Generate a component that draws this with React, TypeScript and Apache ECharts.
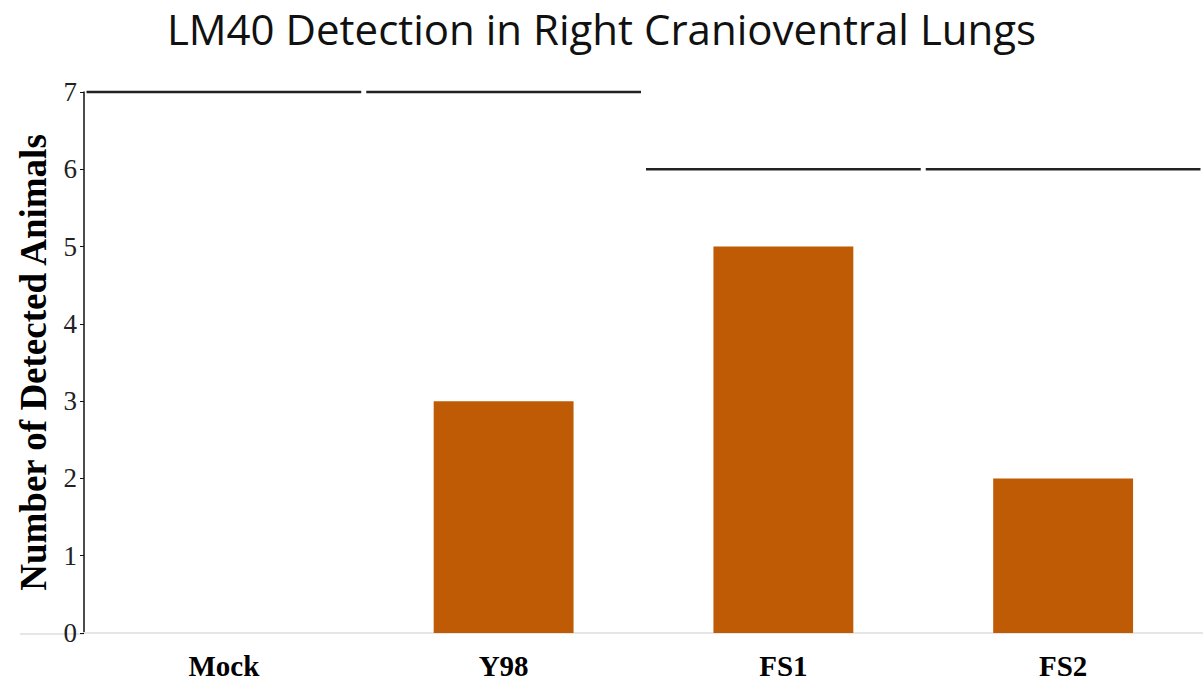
import React, { useEffect, useRef } from "react";
import * as echarts from "echarts";

const categories = ["Mock", "Y98", "FS1", "FS2"];
const detected = [0, 3, 5, 2];
const totals = [7, 7, 6, 6];
const yTicks = [0, 1, 2, 3, 4, 5, 6, 7];

export default function App() {
  const ref = useRef<HTMLDivElement>(null);
  useEffect(() => {
    if (!ref.current) return;
    const chart = echarts.init(ref.current, null, { renderer: "svg" });
    chart.setOption({
      animation: false,
      backgroundColor: "#ffffff",
      title: {
        text: "LM40 Detection in Right Cranioventral Lungs",
        left: "center",
        top: 2,
        textStyle: {
          fontFamily: "Open Sans",
          fontWeight: "normal",
          fontSize: 42,
          color: "#111",
        },
      },
      grid: { left: 84, right: 0, top: 92, bottom: 52 },
      xAxis: {
        type: "category",
        data: categories,
        axisLine: { show: true, lineStyle: { color: "#e6e6e6", width: 2 } },
        axisTick: { show: false },
        axisLabel: {
          fontFamily: "Liberation Serif",
          fontWeight: "bold",
          fontSize: 29,
          color: "#000",
          margin: 18,
        },
      },
      yAxis: {
        type: "value",
        min: yTicks[0],
        max: yTicks[yTicks.length - 1],
        interval: 1,
        name: "Number of Detected Animals",
        nameLocation: "middle",
        nameGap: 32,
        nameTextStyle: {
          fontFamily: "Liberation Serif",
          fontWeight: "bold",
          fontSize: 37,
          color: "#000",
        },
        splitLine: { show: false },
        axisLine: { show: true, lineStyle: { color: "#111", width: 1.5 } },
        axisTick: { show: true, length: 4, lineStyle: { color: "#111" } },
        axisLabel: {
          fontFamily: "Liberation Serif",
          fontSize: 27,
          color: "#222",
          margin: 7,
        },
      },
      series: [
        {
          type: "bar",
          data: detected,
          barWidth: "50%",
          itemStyle: { color: "#BF5B04" },
          z: 2,
        },
        {
          type: "custom",
          data: totals.map((v, i) => [i, v]),
          z: 3,
          renderItem: (params: any, api: any) => {
            const pt = api.coord([api.value(0), api.value(1)]);
            const band = api.size([1, 0])[0];
            return {
              type: "line",
              shape: {
                x1: pt[0] - band / 2 + 2.5,
                y1: pt[1],
                x2: pt[0] + band / 2 - 2.5,
                y2: pt[1],
              },
              style: { stroke: "#222", lineWidth: 2.5 },
            };
          },
        },
      ],
      graphic: [
        {
          type: "line",
          shape: { x1: 20, y1: 634, x2: 84, y2: 634 },
          style: { stroke: "#e6e6e6", lineWidth: 2 },
        },
      ],
    });
    return () => chart.dispose();
  }, []);
  return (
    <div
      ref={ref}
      style={{ position: "absolute", left: 0, top: 0, width: 1203, height: 685 }}
    />
  );
}
